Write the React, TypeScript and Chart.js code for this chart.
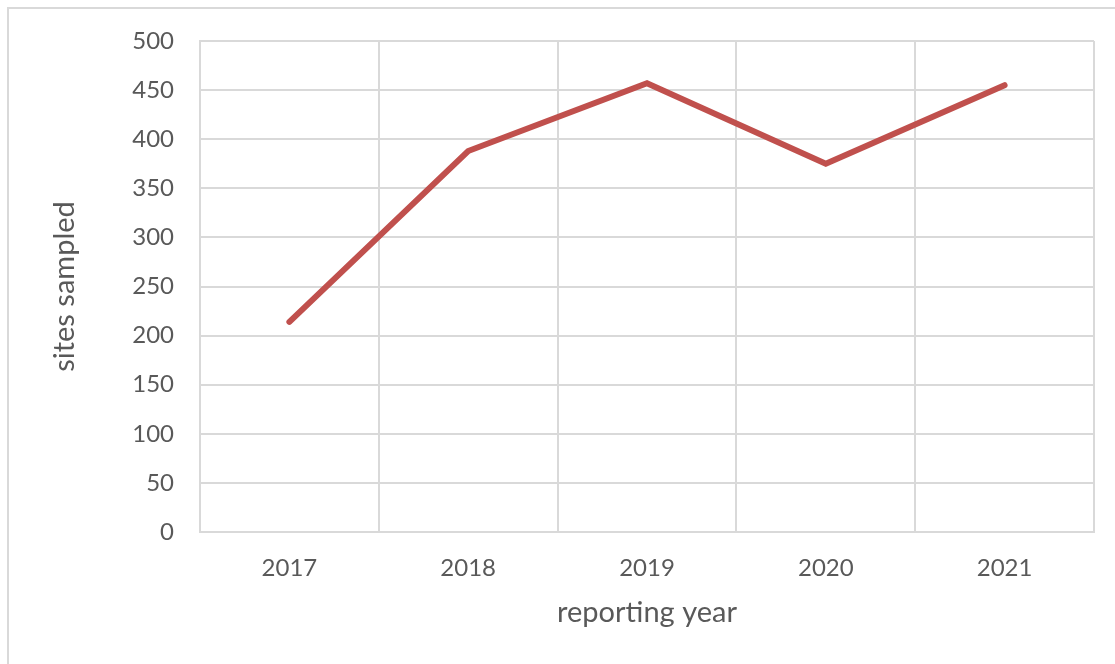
import React, { useEffect, useRef } from "react";
import { Chart, registerables } from "chart.js";

Chart.register(...registerables);

const categories = ["2017", "2018", "2019", "2020", "2021"];
const sitesSampled = [214, 388, 457, 375, 455];
const yTicks = { min: 0, max: 500, step: 50 };

const TEXT = "#595959";
const GRID = "#d9d9d9";
const FONT = "Lato";

export default function App() {
  const ref = useRef<HTMLCanvasElement | null>(null);

  useEffect(() => {
    const canvas = ref.current;
    if (!canvas) return;
    const chart = new Chart(canvas, {
      type: "line",
      data: {
        labels: categories,
        datasets: [
          {
            data: sitesSampled,
            borderColor: "#C0504D",
            backgroundColor: "#C0504D",
            borderWidth: 6,
            borderCapStyle: "round",
            borderJoinStyle: "miter",
            pointRadius: 0,
            tension: 0,
          },
        ],
      },
      options: {
        responsive: false,
        animation: false,
        layout: { padding: { left: 0, top: 41, right: 21, bottom: 0 } },
        plugins: { legend: { display: false }, tooltip: { enabled: false } },
        scales: {
          x: {
            type: "category",
            offset: true,
            grid: { offset: true, color: GRID, lineWidth: 2, drawTicks: false },
            border: { color: GRID, width: 2 },
            ticks: { color: TEXT, font: { family: FONT, size: 24 }, padding: 22 },
            title: {
              display: true,
              text: "reporting year",
              color: TEXT,
              font: { family: FONT, size: 29 },
              padding: { top: 0, bottom: 34 },
            },
            afterFit: (s: any) => {
              s.height = 132;
            },
          },
          y: {
            min: yTicks.min,
            max: yTicks.max,
            ticks: {
              stepSize: yTicks.step,
              color: TEXT,
              font: { family: FONT, size: 24 },
              padding: 26,
            },
            grid: { color: GRID, lineWidth: 2, drawTicks: false },
            border: { color: GRID, width: 2 },
            title: {
              display: true,
              text: "sites sampled",
              color: TEXT,
              font: { family: FONT, size: 29 },
              padding: { top: 47, bottom: 0 },
            },
            afterFit: (s: any) => {
              s.width = 200;
            },
          },
        },
      },
    });
    return () => chart.destroy();
  }, []);

  return (
    <>
      <div
        style={{
          position: "fixed",
          left: 7,
          top: 7,
          width: 1200,
          height: 800,
          border: "2px solid #d9d9d9",
          boxSizing: "border-box",
        }}
      />
      <canvas
        ref={ref}
        width={1115}
        height={664}
        style={{ position: "fixed", left: 0, top: 0, width: 1115, height: 664 }}
      />
    </>
  );
}
